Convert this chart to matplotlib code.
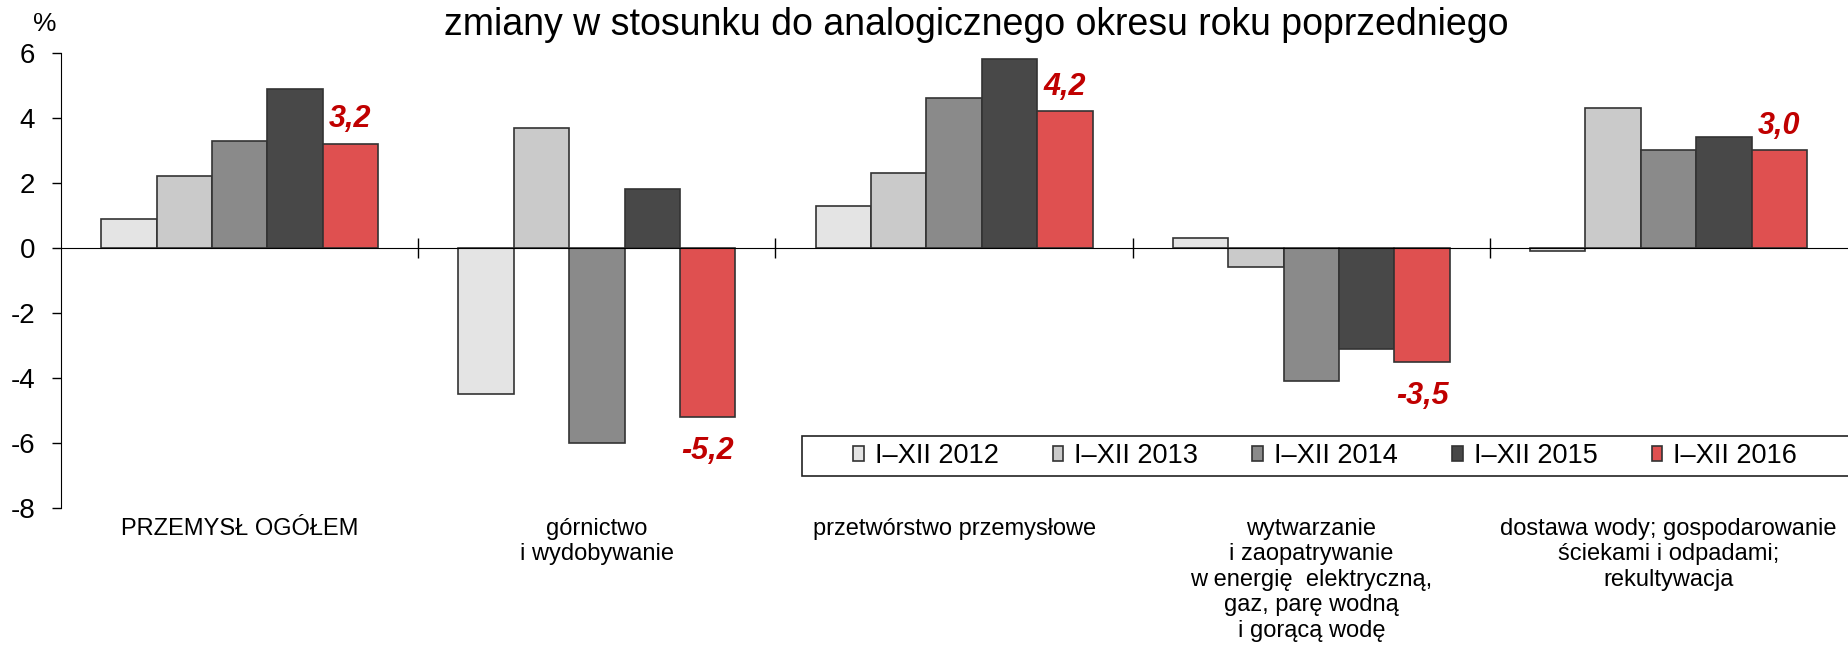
import matplotlib.pyplot as plt
from matplotlib.patches import Rectangle
import numpy as np

plt.rcParams['font.family'] = ['Liberation Sans', 'DejaVu Sans']

categories = ['PRZEMYSŁ OGÓŁEM',
              'górnictwo\ni wydobywanie',
              'przetwórstwo przemysłowe',
              'wytwarzanie\ni zaopatrywanie\nw energię  elektryczną,\ngaz, parę wodną\ni gorącą wodę',
              'dostawa wody; gospodarowanie\nściekami i odpadami;\nrekultywacja']
series = ['I–XII 2012', 'I–XII 2013', 'I–XII 2014', 'I–XII 2015', 'I–XII 2016']
v2012 = [0.9, -4.5, 1.3, 0.3, -0.1]
v2013 = [2.2, 3.7, 2.3, -0.6, 4.3]
v2014 = [3.3, -6.0, 4.6, -4.1, 3.0]
v2015 = [4.9, 1.8, 5.8, -3.1, 3.4]
v2016 = [3.2, -5.2, 4.2, -3.5, 3.0]
labels_2016 = ['3,2', '-5,2', '4,2', '-3,5', '3,0']

colors = ['#e4e4e4', '#cacaca', '#8a8a8a', '#484848', '#df5050']
data = [v2012, v2013, v2014, v2015, v2016]

fig = plt.figure(figsize=(18.49, 6.52), dpi=100)
ax = fig.add_axes([0.033, 0.221, 0.966, 0.698])

x = np.arange(len(categories)) + 0.5
w = 0.155
for i, (vals, c, name) in enumerate(zip(data, colors, series)):
    ax.bar(x + (i - 2) * w, vals, w, color=c, edgecolor='#333333',
           linewidth=1.2, label=name, zorder=2)

# value labels for 2016
for xi, v, t in zip(x, v2016, labels_2016):
    xb = xi + 2 * w
    if v >= 0:
        ax.text(xb, v + 0.3, t, ha='center', va='bottom', color='#c00000',
                fontsize=22, fontweight='bold', fontstyle='italic')
    else:
        ax.text(xb, v - 0.6, t, ha='center', va='top', color='#c00000',
                fontsize=22, fontweight='bold', fontstyle='italic')

ax.set_xlim(0, 5)
ax.set_ylim(-8, 6)
ax.set_yticks(range(-8, 7, 2))
ax.set_yticklabels([str(t) for t in range(-8, 7, 2)], fontsize=20)
ax.tick_params(axis='y', direction='out', length=6.5, width=1, pad=12)

ax.spines['top'].set_visible(False)
ax.spines['right'].set_visible(False)
ax.spines['bottom'].set_position(('data', 0))
ax.set_xticks([1, 2, 3, 4])
ax.set_xticklabels([])
ax.tick_params(axis='x', direction='inout', length=14, width=1)

for xi, cat in zip(x, categories):
    ax.text(xi, -0.022, cat, transform=ax.get_xaxis_transform(), ha='center',
            va='top', fontsize=17, linespacing=1.2)

fig.text(0.528, 0.962, 'zmiany w stosunku do analogicznego okresu roku poprzedniego',
         ha='center', va='center', fontsize=27)
fig.text(0.024, 0.963, '%', ha='center', va='center', fontsize=19)

# legend frame drawn separately so it runs off the right edge like the original
ax.add_patch(Rectangle((0.4337, 0.270), 0.58, 0.0613, transform=fig.transFigure,
                       facecolor='white', edgecolor='#222222', linewidth=1.2,
                       zorder=3, clip_on=False))
leg = ax.legend(loc='center left', bbox_to_anchor=(0.4613, 0.3006),
                bbox_transform=fig.transFigure, ncol=5, fontsize=19.5,
                frameon=False, handlelength=0.4, handleheight=0.45,
                handletextpad=0.4, borderaxespad=0, borderpad=0,
                columnspacing=2.0)
leg.set_zorder(6)

fig.savefig('out.png', dpi=100)
